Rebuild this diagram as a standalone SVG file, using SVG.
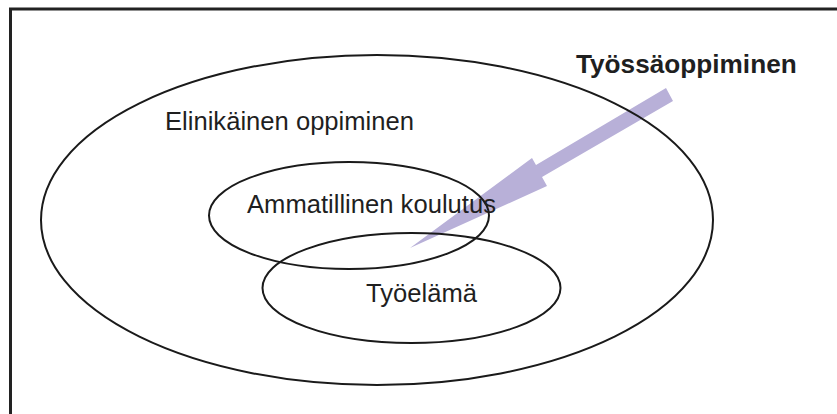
<svg xmlns="http://www.w3.org/2000/svg" width="837" height="414" viewBox="0 0 837 414">
  <style>
    .ring { fill: none; stroke: #1a1a1a; stroke-width: 2; }
    .lbl { font-family: "Liberation Sans", Arial, sans-serif; font-size: 25.6px; fill: #1f1f1f; }
    .bold { font-weight: bold; font-size: 26.2px; }
  </style>
  <rect x="0" y="0" width="837" height="414" fill="#ffffff"/>
  <!-- frame, open towards right and bottom edges -->
  <rect x="10.5" y="9" width="840" height="420" fill="none" stroke="#222222" stroke-width="3"/>

  <!-- lavender arrow sits beneath the rings and labels -->
  <g id="connectors">
    <polygon points="666,88 673,101 542,177 547,186 410,248 532,158 536,165" fill="#b8b0d8"/>
  </g>

  <g id="elinikainen">
    <ellipse class="ring" cx="377" cy="220" rx="336" ry="165"/>
    <text class="lbl" x="165" y="130">Elinikäinen oppiminen</text>
  </g>

  <g id="ammatillinen">
    <ellipse class="ring" cx="349" cy="215.5" rx="140" ry="53.5"/>
    <text class="lbl" x="247" y="213">Ammatillinen koulutus</text>
  </g>

  <g id="tyoelama">
    <ellipse class="ring" cx="411.5" cy="288" rx="149" ry="55"/>
    <text class="lbl" x="366" y="302">Työelämä</text>
  </g>

  <g id="tyossaoppiminen">
    <text class="lbl bold" x="576" y="73">Työssäoppiminen</text>
  </g>
</svg>
